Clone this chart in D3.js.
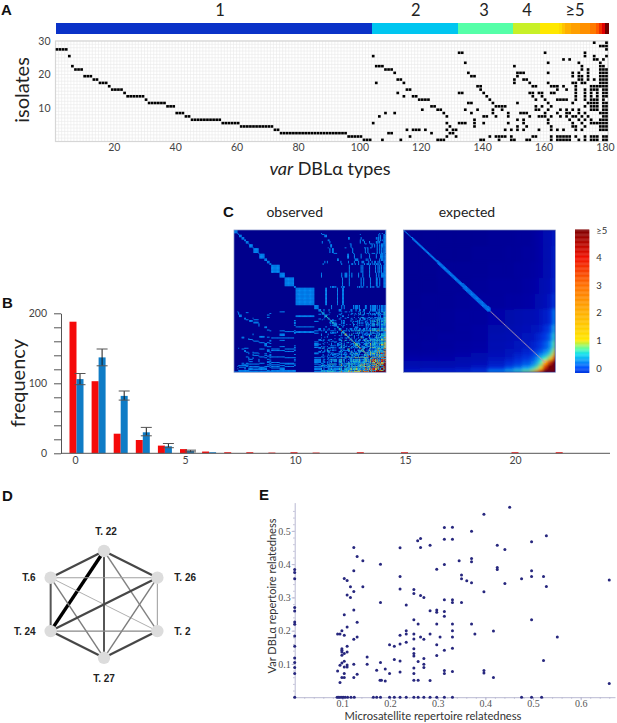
<!DOCTYPE html>
<html>
<head>
<meta charset="utf-8">
<script src="https://cdnjs.cloudflare.com/ajax/libs/d3/7.8.5/d3.min.js"></script>
<style>
	body { margin: 0; background: #fff; }
	svg { display: block; font-family: Lato, "Open Sans", sans-serif; }
	.panel { font-family: "Liberation Sans", sans-serif; font-weight: bold; font-size: 15px; fill: #111; }
</style>
</head>
<body>
<div id="chart"></div>
<script>
// A: var DBLa types found in each isolate, isolate 1 first
var isolateTypes = [
	[101,102,103,107,113,125,126,127,139,140,145,149,150,154,155,162,164,165,166,167,168,171,173,175,176,177,179,180],
	[96,97,98,99,100,116,128,131,142,144,145,146,147,149,156,157,162,164,165,166,167,168,170,173,175,176,177,179,180],
	[74,75,76,77,78,79,80,81,82,83,84,85,86,87,88,89,90,91,92,93,94,95,109,110,123,129,130],
	[72,73,115,117,118,119,121,128,130,131,147,149,151,153,158,162,164,166,170,172,178,179,180],
	[61,62,63,64,65,66,67,68,69,70,71,129,137,151,154,162,169,170,173,178,179,180],
	[55,56,57,58,59,60,104,128,132,133,134,137,140,148,153,161,169,172,175,176,177,178,179,180],
	[45,46,47,48,49,50,51,52,53,54,137,151,153,161,168,171,173,175,178,179,180],
	[43,44,106,128,140,141,144,148,155,158,159,160,162,165,167,169,170,172,174,179,180],
	[40,41,42,108,111,127,136,143,148,152,153,154,160,164,167,168,171,173,178,179,180],
	[120,125,126,134,138,143,146,157,158,161,165,167,169,171,175,176,177,179,180],
	[37,38,39,123,124,144,145,146,147,157,159,162,173,175,176,177,179,180],
	[31,32,33,34,35,36,135,136,143,151,161,169,174,175,176,177,179,180],
	[30,119,120,121,122,142,157,160,164,165,166,167,170,173,175,176,177,179],
	[24,25,26,27,28,29,114,117,118,141,156,159,170,173,175,177,179,180],
	[23,112,132,133,140,155,156,158,159,162,163,170,173,175,177,179,180],
	[19,20,21,22,115,116,139,164,167,170,173,175,176,177,179,180],
	[18,138,139,156,157,162,163,164,166,170,175,176,177,178,179,180],
	[15,16,17,105,114,150,155,161,169,170,172,173,178,179,180],
	[13,14,112,113,150,153,154,171,172,174,176,178,179,180],
	[10,11,12,136,137,151,169,171,172,174,178,179,180],
	[111,135,151,152,153,161,169,171,174,178,179,180],
	[7,8,9,108,109,110,172,174,178,179,180],
	[6,105,106,107,150,172,178,179],
	[134,161,171,178],
	[166,168,176,177,179],
	[5,104,173,176,180],
	[132,133,160,173],
	[1,2,3,4,180],
	[178,179,180],
	[176,180]
];
var typeTicks = [20, 40, 60, 80, 100, 120, 140, 160, 180];
var isolateTicks = [10, 20, 30];

// colour strip above A
var stripLabels = ['1', '2', '3', '4', '≥5'];
var stripGroupSizes = [103, 28, 18, 9];
var topTypeCounts = [5, 6, 6, 7, 8, 9, 10, 11, 12, 12, 13, 13, 13, 14, 14, 14, 15, 15, 16, 17, 18, 20];
var stripCountValues = [1, 2, 3, 4, 5, 9, 10, 11, 12, 13, 14, 15, 16, 18, 20];
var stripCountColors = ['#0a32c8', '#00c6f0', '#55ffa8', '#c8f028', '#ffe800', '#ffe800', '#ffdc00', '#ffc400', '#ffb000', '#ffa000', '#ff9000', '#ff7a00', '#ff5a00', '#e00000', '#700000'];

// B: frequency of shared types
var observedFreq = [188, 103, 28, 19, 11, 6, 2.5, 1.5, 1.5, 1, 1.5, 1, 0, 1.5, 0, 1.5, 0, 0, 0, 0, 1.5, 0, 1.5];
var expectedFreq = [106, 137, 82, 30, 10, 3.5, 1.5];
var expectedHigh = [114, 149, 89, 37, 14, 4.5];
var expectedLow = [98, 125, 76, 25, 8, 2];
var sharedTicks = [0, 5, 10, 15, 20];
var freqTicks = d3.range(0, 201, 20);

// C: colours
var observedValues = [0, 1, 2, 3, 4, 5, 6];
var observedColors = ['#00008c', '#0a9bff', '#30e8d0', '#e0f040', '#ff9000', '#e81000', '#800000'];
var expectedValues = [0, 0.1, 0.4, 1, 2, 3, 4, 4.8];
var expectedColors = ['#00008c', '#0008b0', '#0030e0', '#0a9bff', '#40f8b8', '#ffdc00', '#ff3800', '#800000'];
var diagonalColor = '#b8a0b0';
var barValues = [-0.17, 0, 0.5, 0.7, 1, 2, 3, 4, 5];
var barColors = ['#0038e0', '#0050ff', '#10e0f0', '#60ffa0', '#ffe800', '#ffb000', '#ff7000', '#f01000', '#800000'];
var barTicks = [0, 1, 2, 3, 4, 5];

// C: expected panel on a coarse grid of type bins, lower triangle
var expectedBins = [0, 20, 40, 60, 80, 100, 120, 130, 140, 150, 155, 160, 165, 170, 173, 176, 178, 180];
var expectedGrid = [
	[.02],
	[.02, .02],
	[.02, .02, .03],
	[.02, .02, .03, .03],
	[.02, .03, .03, .04, .05],
	[.03, .03, .04, .05, .05, .08],
	[.03, .04, .04, .05, .06, .09, .1],
	[.04, .04, .05, .05, .06, .1, .12, .15],
	[.04, .05, .05, .06, .07, .12, .15, .18, .22],
	[.05, .05, .06, .07, .08, .14, .18, .22, .28, .35],
	[.06, .06, .07, .08, .1, .16, .2, .28, .35, .45, .6],
	[.08, .08, .08, .1, .12, .2, .25, .35, .45, .6, .85, 1.4],
	[.1, .1, .1, .12, .15, .25, .35, .45, .6, .8, 1.2, 2, 3.2],
	[.12, .12, .12, .15, .2, .3, .45, .6, .8, 1.1, 1.7, 2.6, 3.8, 4.8],
	[.15, .15, .15, .18, .25, .4, .6, .8, 1.1, 1.6, 2.2, 3, 4.2, 5, 5.5],
	[.2, .2, .25, .25, .35, .6, .9, 1.2, 1.7, 2.2, 2.8, 3.6, 4.8, 5.5, 6, 6],
	[.3, .35, .35, .4, .5, 1, 1.4, 1.8, 2.3, 2.8, 3.3, 4, 5, 6, 6, 6, 6]
];
// half width of the bright expected diagonal, per 10 types
var bandHalfWidth = [0, 1, 1, 1, 2, 2, 2, 3, 3, 3, 4];

// D: network
var tribes = ['T. 22', 'T. 26', 'T. 2', 'T. 27', 'T. 24', 'T.6'];
var linkSource = [0, 0, 0, 0, 0, 5, 5, 5, 5, 1, 1, 1, 4, 4, 2];
var linkTarget = [4, 5, 1, 3, 2, 4, 1, 2, 3, 4, 2, 3, 2, 3, 3];
var linkWeight = [5, 3, 3, 2.6, 1.5, 2.6, 1, 0.7, 1.6, 3, 1, 1.6, 1.4, 3, 3];

// E: relatedness
var microRelated = [
	0,0,0,0,0,0,0,0,0,0,0,0,0,
	.09,.09,.095,.099,.104,.095,.099,.104,.104,.095,.099,.104,.104,.11,.11,.099,.104,.099,.099,.099,.11,.11,.11,
	.104,.104,.11,.11,.117,.117,.124,.124,.124,.131,.143,.143,.124,.131,.124,.131,.124,.124,.131,.152,.152,
	.18,.18,.18,.172,.179,.182,.19,.19,.199,.199,.209,.209,.221,.221,.221,.221,.221,.221,.221,.234,.234,.234,.234,
	.25,.25,.25,.25,.25,.25,.25,.25,.25,.25,.25,.258,.264,.264,.264,.271,.259,.264,.271,.259,.259,.271,.271,.271,
	.284,.284,.284,.284,.298,.298,.298,.298,.298,.298,.305,.314,.314,.314,.314,.314,.314,.314,.314,.314,
	.331,.331,.331,.331,.331,.331,.331,.331,.331,.345,.35,.35,.35,.361,.371,.371,.371,.371,.371,.378,
	.397,.397,.397,.397,.417,.417,.425,.425,.425,.441,.441,.451,.476,.497,.497,.497,.497,.522,.522,.528,.528,.551,.66,.66,
	0,.089,.092,.095,.099,.102,.106,.111,.118,.125,.165,.172,.18,.199,.209,.221,.234,.25,.259,.271,.284,.298,.314,.331,.476,.497,.518
];
var varRelated = [
	.384,.375,.356,.27,.259,.226,.219,.184,.153,.118,.104,.089,.071,
	.079,.19,.19,.2,.186,.044,.059,.059,.071,.096,.103,.108,.091,.097,.091,.126,.131,.146,.141,.136,.136,.153,.211,
	.248,.357,.351,.307,.3,.332,.318,.38,.45,.423,.41,.332,.262,.225,.174,.181,.099,.059,.069,.121,.099,
	.4,.285,.104,.081,.051,.051,.085,.049,.071,.158,.153,.113,.449,.363,.325,.186,.16,.109,.076,.277,.2,.19,.165,
	.324,.312,.233,.19,.175,.146,.131,.124,.088,.071,.051,.47,.477,.45,.306,.3,.22,.181,.174,.107,.051,.116,.099,.089,
	.457,.26,.19,.05,.385,.262,.255,.22,.158,.125,.181,.51,.475,.399,.293,.258,.243,.141,.08,.071,
	.511,.475,.293,.285,.22,.2,.181,.147,.077,.41,.367,.356,.285,.35,.499,.417,.407,.344,.22,.19,
	.55,.317,.08,.073,.199,.059,.457,.39,.384,.444,.342,.571,.356,.467,.38,.363,.233,.363,.11,.485,.333,.181,.352,.041,
	0,0,0,0,0,0,0,0,0,0,0,0,0,0,0,0,0,0,0,0,0,0,0,0,0,0,0
];
var microTicks = [0.1, 0.2, 0.3, 0.4, 0.5, 0.6];
var varTicks = [0.1, 0.2, 0.3, 0.4, 0.5];

var svg = d3.select('#chart').append('svg').attr('width', 617).attr('height', 723);

var defs = svg.append('defs');
defs.append('filter').attr('id', 'soft').attr('x', '-2%').attr('y', '-2%').attr('width', '104%').attr('height', '104%')
	.append('feGaussianBlur').attr('stdDeviation', 0.45);
defs.append('filter').attr('id', 'wide').attr('x', '-5%').attr('y', '-5%').attr('width', '110%').attr('height', '110%')
	.append('feGaussianBlur').attr('stdDeviation', 1.6);

function addText(parent, x, y, str, size, fill) {
	return parent.append('text')
		.attr('x', x)
		.attr('y', y)
		.attr('dy', '0.35em')
		.attr('text-anchor', 'middle')
		.attr('font-size', size)
		.attr('fill', fill || '#222')
		.text(str);
}

function addPanelLetter(letter, x, y) {
	svg.append('text').attr('class', 'panel').attr('x', x).attr('y', y).attr('dy', '0.35em').text(letter);
}

function styleAxisText(axis, size, fill) {
	axis.selectAll('text').attr('font-size', size).attr('fill', fill).attr('font-family', 'inherit');
	axis.attr('font-family', null);
}

// number of isolates per type, as the colour strip shows them
function typeCountList() {
	var counts = [];
	stripGroupSizes.forEach(function (size, g) {
		d3.range(size).forEach(function () { counts.push(g + 1); });
	});
	return counts.concat(topTypeCounts);
}

function drawPanelA() {
	addPanelLetter('A', 1, 9.5);

	var x = d3.scaleLinear().domain([1, 181]).range([55.5, 608]);
	var y = d3.scaleLinear().domain([0, 30]).range([141.5, 41]);
	var stripColor = d3.scaleLinear().domain(stripCountValues).range(stripCountColors);
	var g = svg.append('g');

	g.append('g').attr('shape-rendering', 'crispEdges').selectAll('rect')
		.data(typeCountList())
		.enter().append('rect')
		.attr('x', function (d, i) { return x(i + 1); })
		.attr('y', 22.5)
		.attr('width', x(2) - x(1) + 0.6)
		.attr('height', 11.5)
		.attr('fill', function (d) { return stripColor(d); });

	var labelCenter = [220, 415.7, 484, 527, 575];
	stripLabels.forEach(function (label, i) {
		addText(g, labelCenter[i], 10, label, 16.5, '#222');
	});

	var grid = g.append('g').attr('stroke', '#e9e9e9').attr('stroke-width', 0.6);
	grid.selectAll('line.v')
		.data(d3.range(1, 182))
		.enter().append('line')
		.attr('x1', function (d) { return x(d); })
		.attr('x2', function (d) { return x(d); })
		.attr('y1', y(30))
		.attr('y2', y(0));
	grid.selectAll('line.h')
		.data(d3.range(0, 31))
		.enter().append('line')
		.attr('x1', x(1))
		.attr('x2', x(181))
		.attr('y1', function (d) { return y(d); })
		.attr('y2', function (d) { return y(d); });
	g.append('rect')
		.attr('x', x(1)).attr('y', y(30))
		.attr('width', x(181) - x(1)).attr('height', y(0) - y(30))
		.attr('fill', 'none').attr('stroke', '#d6d6d6').attr('stroke-width', 1.2);

	var cells = [];
	isolateTypes.forEach(function (types, r) {
		types.forEach(function (t) { cells.push({ type: t, isolate: r + 1 }); });
	});
	g.append('g').attr('filter', 'url(#soft)').selectAll('rect')
		.data(cells)
		.enter().append('rect')
		.attr('x', function (d) { return x(d.type) + 0.2; })
		.attr('y', function (d) { return y(d.isolate) + 0.4; })
		.attr('width', 2.7)
		.attr('height', 2.6)
		.attr('fill', '#000');

	var xAxis = g.append('g').attr('transform', 'translate(0,' + y(0) + ')')
		.call(d3.axisBottom(x).tickValues(typeTicks).tickSize(0).tickPadding(2));
	xAxis.select('.domain').remove();
	styleAxisText(xAxis, 10.5, '#444');

	var yAxis = g.append('g').attr('transform', 'translate(' + x(1) + ',0)')
		.call(d3.axisLeft(y).tickValues(isolateTicks).tickSize(0).tickPadding(5));
	yAxis.select('.domain').remove();
	styleAxisText(yAxis, 10.5, '#444');

	addText(g, 22, 90, 'isolates', 20, '#222').attr('transform', 'rotate(-90,22,90)');

	var title = addText(g, 330, 169, '', 18, '#222');
	title.append('tspan').attr('font-style', 'italic').text('var');
	title.append('tspan').text(' DBLα types');
}

function drawPanelB() {
	addPanelLetter('B', 2, 303);

	var x = d3.scaleLinear().domain([0, 22]).range([76.5, 562.7]);
	var tickX = d3.scaleLinear().domain([0, 20]).range([75, 515]);
	var y = d3.scaleLinear().domain([0, 200]).range([453.3, 313.3]);
	var g = svg.append('g');
	var barW = 7;

	g.selectAll('rect.obs')
		.data(observedFreq)
		.enter().append('rect')
		.attr('class', 'obs')
		.attr('x', function (d, i) { return x(i) - barW; })
		.attr('y', function (d) { return y(d); })
		.attr('width', barW)
		.attr('height', function (d) { return y(0) - y(d); })
		.attr('fill', '#f50a0a');

	g.selectAll('rect.exp')
		.data(expectedFreq)
		.enter().append('rect')
		.attr('class', 'exp')
		.attr('x', function (d, i) { return x(i); })
		.attr('y', function (d) { return y(d); })
		.attr('width', barW)
		.attr('height', function (d) { return y(0) - y(d); })
		.attr('fill', '#0f7cc6');

	var err = g.append('g');
	expectedHigh.forEach(function (high, i) {
		var cx = x(i) + barW / 2;
		err.append('line').attr('x1', cx).attr('x2', cx).attr('y1', y(high)).attr('y2', y(expectedLow[i]))
			.attr('stroke', '#1a1a1a').attr('stroke-width', 1);
		[high, expectedLow[i]].forEach(function (v) {
			err.append('line').attr('x1', cx - 5.5).attr('x2', cx + 5.5).attr('y1', y(v)).attr('y2', y(v))
				.attr('stroke', '#555').attr('stroke-width', 1);
		});
	});

	var yAxis = g.append('g').attr('transform', 'translate(61,0)')
		.call(d3.axisLeft(y).tickValues(freqTicks).tickSize(7).tickSizeOuter(0).tickPadding(7)
			.tickFormat(function (d) { return d % 100 === 0 ? d : ''; }));
	yAxis.selectAll('line').attr('stroke', '#555');
	yAxis.select('.domain').attr('stroke', '#555');
	styleAxisText(yAxis, 10.5, '#444');

	g.append('line').attr('x1', 61).attr('x2', 610).attr('y1', y(0)).attr('y2', y(0))
		.attr('stroke', '#555').attr('stroke-width', 1);

	var xAxis = g.append('g').attr('transform', 'translate(0,' + y(0) + ')')
		.call(d3.axisBottom(tickX).tickValues(sharedTicks).tickSize(0).tickPadding(3));
	xAxis.select('.domain').remove();
	styleAxisText(xAxis, 10.5, '#444');

	addText(g, 18, 383, 'frequency', 20, '#222').attr('transform', 'rotate(-90,18,383)');
}

function drawHeat(layers, left, label, labelX) {
	var x = d3.scaleLinear().domain([0, 180]).range([left, left + 152]);
	var y = d3.scaleLinear().domain([0, 180]).range([230, 372.3]);
	var g = svg.append('g');
	var clipId = 'clip' + Math.round(left);

	defs.append('clipPath').attr('id', clipId).append('rect')
		.attr('x', left).attr('y', 230).attr('width', 152).attr('height', 142.3);

	var holder = g.append('g').attr('clip-path', 'url(#' + clipId + ')');
	holder.append('rect')
		.attr('x', left).attr('y', 230).attr('width', 152).attr('height', 142.3)
		.attr('fill', '#00008c');

	layers.forEach(function (layer) {
		holder.append('g').attr('filter', 'url(#' + layer.filter + ')').selectAll('rect')
			.data(layer.cells)
			.enter().append('rect')
			.attr('x', function (d) { return x(d.i0); })
			.attr('y', function (d) { return y(d.j0); })
			.attr('width', function (d) { return x(d.i1) - x(d.i0) + 0.1; })
			.attr('height', function (d) { return y(d.j1) - y(d.j0) + 0.1; })
			.attr('fill', function (d) { return d.fill; });
	});

	g.append('rect')
		.attr('x', left).attr('y', 230).attr('width', 152).attr('height', 142.3)
		.attr('fill', 'none').attr('stroke', '#7f8fc4').attr('stroke-width', 0.7);

	addText(g, labelX, 212, label, 14, '#222');
}

// co-occurrence of two types, counted from the isolates in A
function observedCells() {
	var color = d3.scaleLinear().domain(observedValues).range(observedColors).clamp(true);
	var table = {};
	isolateTypes.forEach(function (types) {
		types.forEach(function (a) {
			types.forEach(function (b) {
				var key = (a - 1) + '_' + (b - 1);
				table[key] = (table[key] || 0) + 1;
			});
		});
	});
	return Object.keys(table).map(function (key) {
		var p = key.split('_');
		return { i0: +p[0], i1: +p[0] + 1, j0: +p[1], j1: +p[1] + 1, fill: color(table[key]) };
	});
}

function expectedCells() {
	var color = d3.scaleLinear().domain(expectedValues).range(expectedColors).clamp(true);
	var cells = [];
	expectedGrid.forEach(function (row, a) {
		row.forEach(function (v, b) {
			var fill = color(v);
			cells.push({ i0: expectedBins[b], i1: expectedBins[b + 1], j0: expectedBins[a], j1: expectedBins[a + 1], fill: fill });
			cells.push({ i0: expectedBins[a], i1: expectedBins[a + 1], j0: expectedBins[b], j1: expectedBins[b + 1], fill: fill });
		});
	});
	return cells;
}

// the diagonal of the expected panel, drawn sharp on top of the grid
function expectedBandCells() {
	var color = d3.scaleLinear().domain(expectedValues).range(expectedColors).clamp(true);
	var cells = [];
	d3.range(180).forEach(function (i) {
		if (i < 103) {
			var w = bandHalfWidth[Math.floor(i / 10)];
			d3.range(Math.max(0, i - w), Math.min(103, i + w + 1)).forEach(function (j) {
				cells.push({ i0: i, i1: i + 1, j0: j, j1: j + 1, fill: color(i === j ? 1 : 0.85) });
			});
		} else if (i < 168) {
			cells.push({ i0: i, i1: i + 1, j0: i, j1: i + 1, fill: diagonalColor });
		}
	});
	return cells;
}

function drawPanelC() {
	addPanelLetter('C', 223, 212);
	drawHeat([{ cells: observedCells(), filter: 'soft' }], 234, 'observed', 294.7);
	drawHeat([
		{ cells: expectedCells(), filter: 'wide' },
		{ cells: expectedBandCells(), filter: 'soft' }
	], 403.5, 'expected', 467);

	var y = d3.scaleLinear().domain([-0.17, 5]).range([372.7, 230]);
	var color = d3.scaleLinear().domain(barValues).range(barColors);
	var g = svg.append('g');
	g.selectAll('rect')
		.data(d3.range(-0.17, 5, 0.03))
		.enter().append('rect')
		.attr('x', 575)
		.attr('y', function (d) { return y(d + 0.03); })
		.attr('width', 14.3)
		.attr('height', y(0) - y(0.03) + 0.3)
		.attr('fill', function (d) { return color(d); });

	var axis = g.append('g').attr('transform', 'translate(589.3,0)')
		.call(d3.axisRight(y).tickValues(barTicks).tickSize(0).tickPadding(7)
			.tickFormat(function (d) { return d === 5 ? '≥5' : d; }));
	axis.select('.domain').remove();
	styleAxisText(axis, 9.5, '#333');
}

function drawPanelD() {
	addPanelLetter('D', 2, 496);

	var cx = 104, cy = 604.4, rx = 61.6, ry = 53.4;
	var angle = d3.scaleLinear().domain([0, 6]).range([0, 2 * Math.PI]);
	var nodes = tribes.map(function (name, i) {
		return {
			name: name,
			x: cx + rx * Math.sin(angle(i)),
			y: cy - ry * Math.cos(angle(i))
		};
	});
	var width = d3.scaleLinear().domain([0.7, 5]).range([0.9, 3.4]);
	var shade = d3.scaleLinear().domain([0.7, 1, 1.6, 3, 5]).range(['#a6a6a6', '#a0a0a0', '#7c7c7c', '#474747', '#000']);
	var g = svg.append('g');

	g.selectAll('line')
		.data(linkWeight)
		.enter().append('line')
		.attr('x1', function (d, i) { return nodes[linkSource[i]].x; })
		.attr('y1', function (d, i) { return nodes[linkSource[i]].y; })
		.attr('x2', function (d, i) { return nodes[linkTarget[i]].x; })
		.attr('y2', function (d, i) { return nodes[linkTarget[i]].y; })
		.attr('stroke-width', function (d) { return width(d); })
		.attr('stroke', function (d) { return shade(d); });

	g.selectAll('circle')
		.data(nodes)
		.enter().append('circle')
		.attr('cx', function (d) { return d.x; })
		.attr('cy', function (d) { return d.y; })
		.attr('r', 6.2)
		.attr('fill', '#dcdcdc');

	g.selectAll('text')
		.data(nodes)
		.enter().append('text')
		.attr('x', function (d, i) {
			if (i === 0) return d.x + 2;
			if (i === 3) return d.x;
			return d.x < cx ? d.x - 15 : d.x + 17;
		})
		.attr('y', function (d, i) {
			if (i === 0) return d.y - 20;
			if (i === 3) return d.y + 21;
			return d.y;
		})
		.attr('dy', '0.35em')
		.attr('text-anchor', function (d, i) {
			if (i === 0 || i === 3) return 'middle';
			return d.x < cx ? 'end' : 'start';
		})
		.attr('font-family', '"Liberation Sans", sans-serif')
		.attr('font-weight', 'bold')
		.attr('font-size', 10)
		.attr('fill', '#222')
		.text(function (d) { return d.name; });
}

function drawPanelE() {
	addPanelLetter('E', 259, 495);

	var x = d3.scaleLinear().domain([0, 0.672]).range([294.7, 615]);
	var y = d3.scaleLinear().domain([0, 0.585]).range([697.2, 502.6]);
	var g = svg.append('g');
	var axisColor = '#b9b9d2';

	var minorX = g.append('g').attr('transform', 'translate(0,' + y(0) + ')')
		.call(d3.axisBottom(x).tickValues(d3.range(0, 0.67, 0.02)).tickSize(1.5).tickSizeOuter(0).tickFormat(''));
	minorX.selectAll('line').attr('stroke', axisColor);
	minorX.select('.domain').attr('stroke', axisColor);

	var majorX = g.append('g').attr('transform', 'translate(0,' + y(0) + ')')
		.call(d3.axisBottom(x).tickValues(microTicks).tickSize(3).tickPadding(0).tickFormat(d3.format('.1f')));
	majorX.select('.domain').remove();
	majorX.selectAll('line').attr('stroke', axisColor);
	styleAxisText(majorX, 10, '#555');
	majorX.selectAll('text').attr('font-family', '"Liberation Serif", serif');

	var minorY = g.append('g').attr('transform', 'translate(' + x(0) + ',0)')
		.call(d3.axisLeft(y).tickValues(d3.range(0, 0.58, 0.02)).tickSize(1.5).tickSizeOuter(0).tickFormat(''));
	minorY.selectAll('line').attr('stroke', axisColor);
	minorY.select('.domain').attr('stroke', axisColor);

	var majorY = g.append('g').attr('transform', 'translate(' + x(0) + ',0)')
		.call(d3.axisLeft(y).tickValues(varTicks).tickSize(3).tickPadding(1).tickFormat(function (d) {
			return d3.format('.1f')(d);
		}));
	majorY.select('.domain').remove();
	majorY.selectAll('line').attr('stroke', axisColor);
	styleAxisText(majorY, 10, '#555');
	majorY.selectAll('text').attr('font-family', '"Liberation Serif", serif');

	g.selectAll('circle')
		.data(microRelated)
		.enter().append('circle')
		.attr('cx', function (d) { return x(d); })
		.attr('cy', function (d, i) { return y(varRelated[i]); })
		.attr('r', 1.5)
		.attr('fill', '#27277e');

	addText(g, 433, 716.5, 'Microsatellite repertoire relatedness', 11.2, '#333');
	addText(g, 271.7, 596, 'Var DBLα repertoire relatedness', 11, '#333')
		.attr('transform', 'rotate(-90,271.7,596)');
}

drawPanelA();
drawPanelB();
drawPanelC();
drawPanelD();
drawPanelE();
</script>
</body>
</html>
